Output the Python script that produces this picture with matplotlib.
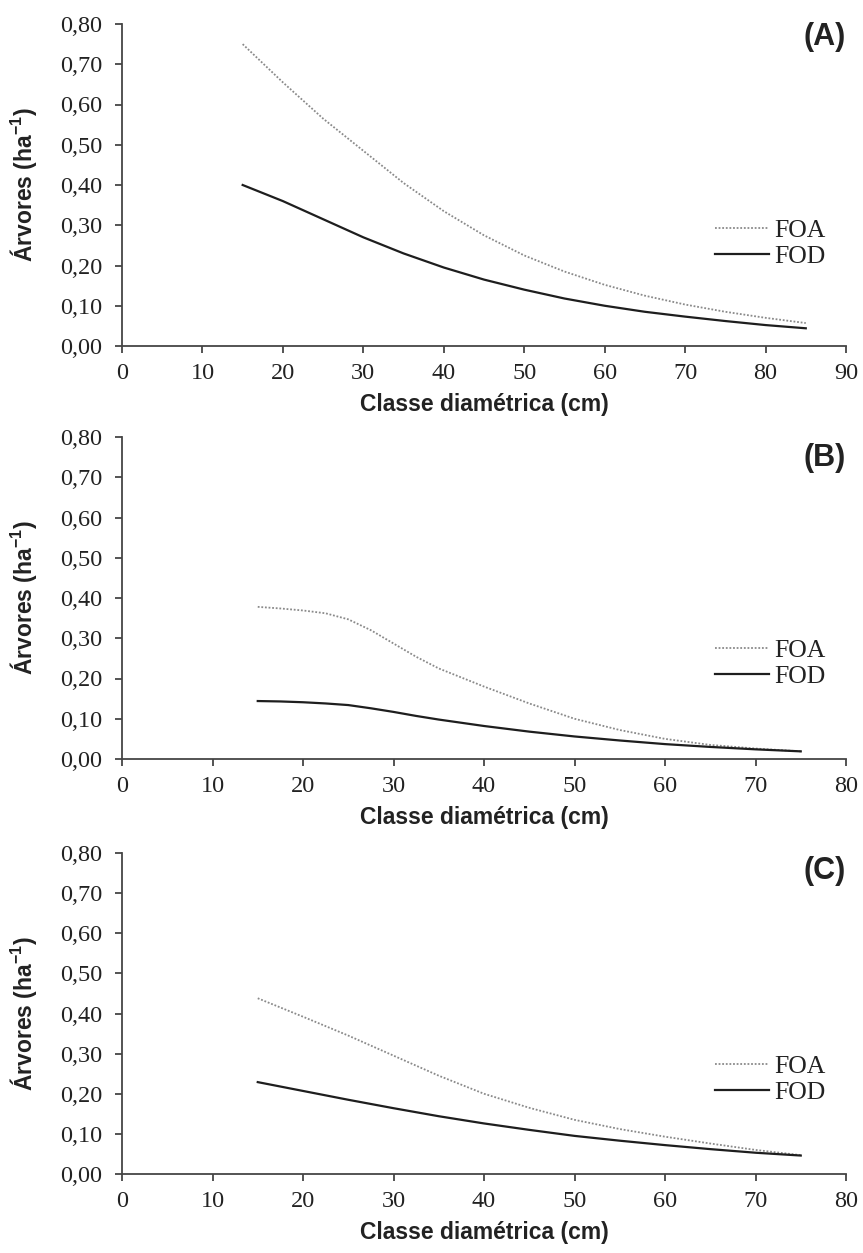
import matplotlib
matplotlib.use("Agg")
import matplotlib.pyplot as plt
from matplotlib.ticker import FixedLocator, FixedFormatter

plt.rcParams['mathtext.fontset'] = 'custom'
plt.rcParams['mathtext.rm'] = 'Liberation Sans:bold'
plt.rcParams['mathtext.bf'] = 'Liberation Sans:bold'
plt.rcParams['mathtext.it'] = 'Liberation Sans:bold'

# ---------------- data ----------------
y_ticks = [0.0, 0.1, 0.2, 0.3, 0.4, 0.5, 0.6, 0.7, 0.8]
y_tick_labels = ["0,00", "0,10", "0,20", "0,30", "0,40", "0,50", "0,60", "0,70", "0,80"]

# Panel A
a_x = [15, 20, 25, 30, 35, 40, 45, 50, 55, 60, 65, 70, 75, 80, 85]
a_foa = [0.75, 0.655, 0.565, 0.485, 0.405, 0.335, 0.275, 0.225, 0.185, 0.152, 0.125, 0.103, 0.085, 0.070, 0.057]
a_fod = [0.40, 0.36, 0.315, 0.27, 0.23, 0.195, 0.165, 0.14, 0.118, 0.10, 0.085, 0.073, 0.062, 0.052, 0.044]
a_xticks = [0, 10, 20, 30, 40, 50, 60, 70, 80, 90]

# Panel B
b_x = [15, 17.5, 20, 22.5, 25, 27.5, 30, 32.5, 35, 40, 45, 50, 55, 60, 65, 70, 75]
b_foa = [0.378, 0.374, 0.369, 0.362, 0.347, 0.320, 0.287, 0.254, 0.225, 0.180, 0.138, 0.100, 0.072, 0.050, 0.035, 0.026, 0.019]
b_fod = [0.144, 0.143, 0.141, 0.138, 0.134, 0.126, 0.117, 0.107, 0.098, 0.082, 0.068, 0.056, 0.046, 0.037, 0.030, 0.024, 0.019]
b_xticks = [0, 10, 20, 30, 40, 50, 60, 70, 80]

# Panel C
c_x = [15, 20, 25, 30, 35, 40, 45, 50, 55, 60, 65, 70, 75]
c_foa = [0.438, 0.392, 0.345, 0.295, 0.245, 0.200, 0.165, 0.135, 0.112, 0.093, 0.076, 0.060, 0.047]
c_fod = [0.229, 0.207, 0.185, 0.164, 0.144, 0.126, 0.110, 0.095, 0.083, 0.072, 0.062, 0.053, 0.046]
c_xticks = [0, 10, 20, 30, 40, 50, 60, 70, 80]

panels = [
    ("(A)", a_x, a_foa, a_fod, a_xticks, 90),
    ("(B)", b_x, b_foa, b_fod, b_xticks, 80),
    ("(C)", c_x, c_foa, c_fod, c_xticks, 80),
]

# ---------------- layout ----------------
W, H = 863, 1253
fig = plt.figure(figsize=(W / 100, H / 100), dpi=100)
left_px, right_px = 122, 846
boxes = [(24, 346), (437, 759), (853, 1174)]
tag_y = [0.96, 0.935, 0.945]
leg_y = [0.318, 0.297, 0.293]

serif = "Liberation Serif"
sans = "Liberation Sans"
axis_col = "#454545"

for i, (tag, xs, foa, fod, xt, xmax) in enumerate(panels):
    top, bot = boxes[i]
    ax = fig.add_axes([left_px / W, 1 - bot / H, (right_px - left_px) / W, (bot - top) / H])
    ax.plot(xs, foa, color="#8a8a8a", linestyle=(0, (1, 1)), linewidth=1.3, label="FOA")
    ax.plot(xs, fod, color="#1e1e1e", linestyle="-", linewidth=1.6, label="FOD")
    ax.set_xlim(0, xmax)
    ax.set_ylim(0, 0.8)
    ax.yaxis.set_major_locator(FixedLocator(y_ticks))
    ax.yaxis.set_major_formatter(FixedFormatter(y_tick_labels))
    ax.xaxis.set_major_locator(FixedLocator(xt))
    ax.set_xticklabels([str(v) for v in xt])
    for s in ["top", "right"]:
        ax.spines[s].set_visible(False)
    for s in ["left", "bottom"]:
        ax.spines[s].set_color(axis_col)
        ax.spines[s].set_linewidth(1.3)
    ax.tick_params(axis="both", direction="out", length=5, width=1.3, color=axis_col,
                   labelsize=17.5, labelcolor="#222222")
    ax.tick_params(axis="y", pad=9)
    ax.tick_params(axis="x", pad=7)
    for lab in ax.get_xticklabels() + ax.get_yticklabels():
        lab.set_fontfamily(serif)
    ax.set_xlabel("Classe diamétrica (cm)", fontfamily=sans, fontweight="bold",
                  fontsize=16.5, color="#222222", labelpad=7)
    ax.set_ylabel(r"Árvores (ha$^{-1}$)", fontfamily=sans, fontweight="bold",
                  fontsize=16.5, color="#222222")
    ax.yaxis.set_label_coords(-0.115, 0.5)
    ax.text(1.0, tag_y[i], tag, transform=ax.transAxes, ha="right", va="center",
            fontfamily=sans, fontweight="bold", fontsize=22, color="#222222")
    leg = ax.legend(loc="center left", bbox_to_anchor=(0.819, leg_y[i]), frameon=False,
                    prop={"family": serif, "size": 18.5}, handlelength=2.1,
                    handletextpad=0.2, labelspacing=0.12, borderpad=0, borderaxespad=0)
    for t in leg.get_texts():
        t.set_color("#222222")

fig.savefig("out.png", dpi=100)
